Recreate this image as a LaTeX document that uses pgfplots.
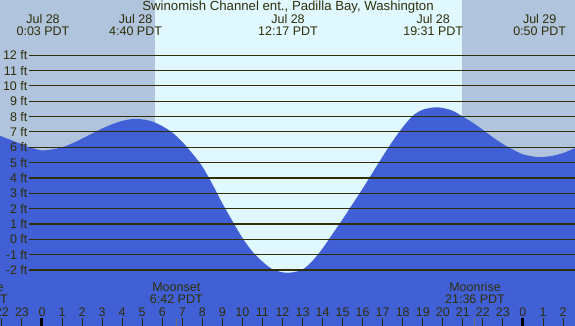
\documentclass[border=0pt]{standalone}
\usepackage{fontspec}
\setmainfont{Liberation Sans}
\usepackage{pgfplots}
\pgfplotsset{compat=1.18}
\usepgfplotslibrary{fillbetween}
\definecolor{night}{RGB}{176,196,222}
\definecolor{day}{RGB}{224,248,255}
\definecolor{water}{RGB}{65,96,213}
\definecolor{ink}{RGB}{48,46,8}
\definecolor{moontick}{RGB}{110,110,110}
\pgfplotstableread{
h ft
-2.2 6.8
-1.5 6.45
-1.0 6.2
-0.5 5.95
0.0 5.8
0.5 5.86
1.0 6.0
1.5 6.25
2.0 6.56
2.5 6.9
3.0 7.22
3.5 7.5
4.0 7.72
4.5 7.84
5.0 7.82
5.5 7.68
6.0 7.38
6.5 6.96
7.0 6.35
7.5 5.6
8.0 4.75
8.5 3.6
9.0 2.35
9.5 1.2
10.0 0.1
10.5 -0.8
11.0 -1.45
11.5 -1.95
12.0 -2.15
12.3 -2.18
12.5 -2.15
13.0 -1.98
13.5 -1.4
14.0 -0.6
14.5 0.35
15.0 1.3
15.5 2.3
16.0 3.3
16.5 4.35
17.0 5.4
17.5 6.4
18.0 7.3
18.5 8.05
19.0 8.45
19.6 8.6
20.0 8.56
20.5 8.38
21.0 8.0
21.5 7.6
22.0 7.14
22.5 6.65
23.0 6.21
23.5 5.85
24.0 5.54
24.5 5.4
24.83 5.35
25.0 5.36
25.5 5.45
26.0 5.62
26.7 6.0
}\tide
\begin{document}
\begin{tikzpicture}[font=\fontsize{12.5}{14}\selectfont]
\begin{axis}[at={(0pt,0pt)}, anchor=south west, width=575pt, height=326pt,
  scale only axis, xmin=-2.096, xmax=26.6, ymin=-5.65, ymax=15.6,
  hide axis, clip=false]
\addplot[fill=night, draw=none] coordinates {(-2.096,-5.65) (5.65,-5.65) (5.65,15.6) (-2.096,15.6)} --cycle;
\addplot[fill=day, draw=none] coordinates {(5.65,-5.65) (20.95,-5.65) (20.95,15.6) (5.65,15.6)} --cycle;
\addplot[fill=night, draw=none] coordinates {(20.95,-5.65) (26.6,-5.65) (26.6,15.6) (20.95,15.6)} --cycle;
\addplot[name path=tide, draw=none, smooth] table[x=h,y=ft] {\tide};
\path[name path=floor] (axis cs:-2.2,-5.65) -- (axis cs:26.7,-5.65);
\addplot[fill=water, draw=none] fill between[of=tide and floor, on layer=main];
\pgfplotsinvokeforeach{-2,...,12}{
  \draw[ink, line width=1.1pt] (axis cs:-0.65,#1) -- (axis cs:26.6,#1);
  \node[anchor=east, text=ink, inner sep=0pt] at (axis cs:-0.72,#1) {#1 ft};
}
\end{axis}
\begin{scope}[x=1pt,y=1pt]
% title and tide event labels
\node[text=ink, font=\fontsize{13.2}{15}\selectfont] at (288,318.5) {Swinomish Channel ent., Padilla Bay, Washington};
\foreach \x/\t in {43/0:03, 135.6/4:40, 288/12:17, 433.2/19:31} {
  \node[text=ink] at (\x,306.5) {Jul 28};
  \node[text=ink] at (\x,294.5) {\t\ PDT};
}
\node[text=ink] at (539.7,306.5) {Jul 29};
\node[text=ink] at (539.7,294.5) {0:50 PDT};
% moon labels
\foreach \x/\a/\t in {-22/Moonrise/20:51, 176.3/Moonset/6:42, 475/Moonrise/21:36} {
  \node[text=ink] at (\x,38.5) {\a};
  \node[text=ink] at (\x,27) {\t\ PDT};
}
% hour labels and ticks
\foreach \h in {-2,...,26} {
  \pgfmathtruncatemacro\hh{mod(\h+24,24)}
  \node[text=ink] at ({42+20.04*\h},14) {\hh};
  \draw[ink, line width=1pt] ({42+20.04*\h},0) -- ({42+20.04*\h},8);
}
\fill[black] (40,0) rectangle (43,8);
\fill[black] ({42+20.04*24-2},0) rectangle ({42+20.04*24+1},8);
\draw[moontick, line width=1pt] (176.3,0) -- (176.3,8);
\draw[moontick, line width=1pt] (474.9,0) -- (474.9,8);
\pgfresetboundingbox
\path[use as bounding box] (0,0) rectangle (575,326);
\end{scope}
\end{tikzpicture}
\end{document}
